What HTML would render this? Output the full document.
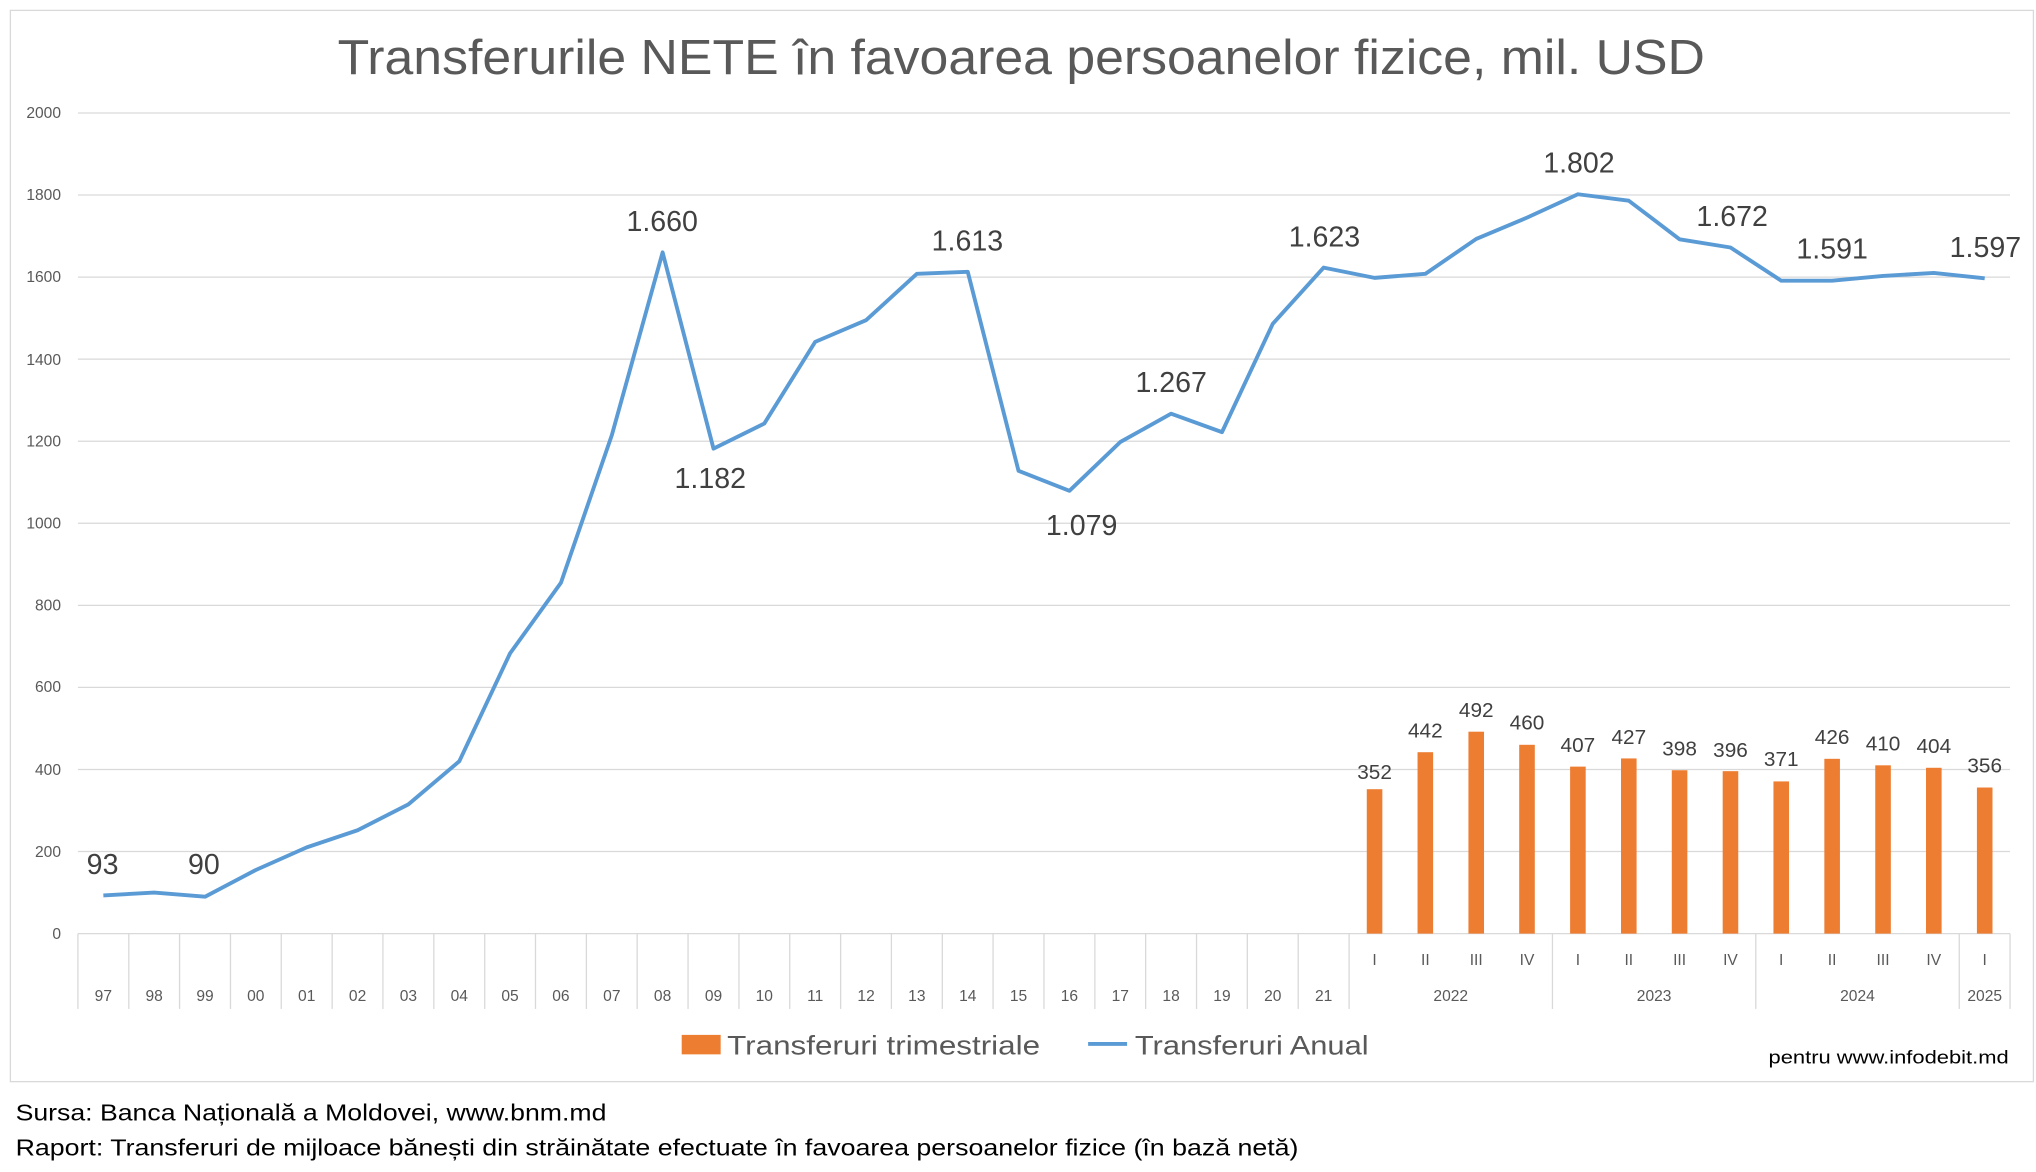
<!DOCTYPE html>
<html><head><meta charset="utf-8"><style>
html,body{margin:0;padding:0;background:#fff;}
svg{display:block;font-family:"Liberation Sans",sans-serif;}
</style></head><body>
<svg width="2036" height="1172" viewBox="0 0 1568 902.6" preserveAspectRatio="none">
<rect x="0" y="0" width="1568" height="902.6" fill="#fff"/>
<rect x="8" y="8" width="1558" height="825" fill="#fff" stroke="#d9d9d9" stroke-width="1"/>
<text x="260" y="57" font-size="38" fill="#595959" textLength="1053" lengthAdjust="spacingAndGlyphs">Transferurile NETE în favoarea persoanelor fizice, mil. USD</text>
<g stroke="#d9d9d9" stroke-width="1">
<line x1="60" x2="1548" y1="87" y2="87"/><line x1="60" x2="1548" y1="150.2" y2="150.2"/>
<line x1="60" x2="1548" y1="213.4" y2="213.4"/><line x1="60" x2="1548" y1="276.6" y2="276.6"/>
<line x1="60" x2="1548" y1="339.8" y2="339.8"/><line x1="60" x2="1548" y1="403" y2="403"/>
<line x1="60" x2="1548" y1="466.2" y2="466.2"/><line x1="60" x2="1548" y1="529.4" y2="529.4"/>
<line x1="60" x2="1548" y1="592.6" y2="592.6"/><line x1="60" x2="1548" y1="655.8" y2="655.8"/>
<line x1="60" x2="1548" y1="719" y2="719"/>
</g>
<g font-size="12" fill="#595959" text-anchor="end">
<text x="47" y="91">2000</text><text x="47" y="154">1800</text><text x="47" y="217">1600</text>
<text x="47" y="281">1400</text><text x="47" y="344">1200</text><text x="47" y="407">1000</text>
<text x="47" y="470">800</text><text x="47" y="533">600</text><text x="47" y="597">400</text>
<text x="47" y="660">200</text><text x="47" y="723">0</text>
</g>
<g stroke="#d9d9d9" stroke-width="1">
<line x1="60" x2="60" y1="719" y2="777"/><line x1="99.2" x2="99.2" y1="719" y2="777"/><line x1="138.3" x2="138.3" y1="719" y2="777"/>
<line x1="177.5" x2="177.5" y1="719" y2="777"/><line x1="216.6" x2="216.6" y1="719" y2="777"/><line x1="255.8" x2="255.8" y1="719" y2="777"/>
<line x1="294.9" x2="294.9" y1="719" y2="777"/><line x1="334.1" x2="334.1" y1="719" y2="777"/><line x1="373.3" x2="373.3" y1="719" y2="777"/>
<line x1="412.4" x2="412.4" y1="719" y2="777"/><line x1="451.6" x2="451.6" y1="719" y2="777"/><line x1="490.7" x2="490.7" y1="719" y2="777"/>
<line x1="529.9" x2="529.9" y1="719" y2="777"/><line x1="569.1" x2="569.1" y1="719" y2="777"/><line x1="608.2" x2="608.2" y1="719" y2="777"/>
<line x1="647.4" x2="647.4" y1="719" y2="777"/><line x1="686.5" x2="686.5" y1="719" y2="777"/><line x1="725.7" x2="725.7" y1="719" y2="777"/>
<line x1="764.8" x2="764.8" y1="719" y2="777"/><line x1="804" x2="804" y1="719" y2="777"/><line x1="843.2" x2="843.2" y1="719" y2="777"/>
<line x1="882.3" x2="882.3" y1="719" y2="777"/><line x1="921.5" x2="921.5" y1="719" y2="777"/><line x1="960.6" x2="960.6" y1="719" y2="777"/>
<line x1="999.8" x2="999.8" y1="719" y2="777"/><line x1="1039" x2="1039" y1="719" y2="777"/><line x1="1195.6" x2="1195.6" y1="719" y2="777"/>
<line x1="1352.2" x2="1352.2" y1="719" y2="777"/><line x1="1508.9" x2="1508.9" y1="719" y2="777"/><line x1="1548" x2="1548" y1="719" y2="777"/>
</g>
<g font-size="12" fill="#595959" text-anchor="middle">
<text x="79.6" y="771">97</text><text x="118.7" y="771">98</text><text x="157.9" y="771">99</text><text x="197" y="771">00</text>
<text x="236.2" y="771">01</text><text x="275.4" y="771">02</text><text x="314.5" y="771">03</text><text x="353.7" y="771">04</text>
<text x="392.8" y="771">05</text><text x="432" y="771">06</text><text x="471.2" y="771">07</text><text x="510.3" y="771">08</text>
<text x="549.5" y="771">09</text><text x="588.6" y="771">10</text><text x="627.8" y="771">11</text><text x="667" y="771">12</text>
<text x="706.1" y="771">13</text><text x="745.3" y="771">14</text><text x="784.4" y="771">15</text><text x="823.6" y="771">16</text>
<text x="862.8" y="771">17</text><text x="901.9" y="771">18</text><text x="941.1" y="771">19</text><text x="980.2" y="771">20</text>
<text x="1019.4" y="771">21</text>
<text x="1058.6" y="743">I</text><text x="1097.7" y="743">II</text><text x="1136.9" y="743">III</text><text x="1176" y="743">IV</text>
<text x="1215.2" y="743">I</text><text x="1254.4" y="743">II</text><text x="1293.5" y="743">III</text><text x="1332.7" y="743">IV</text>
<text x="1371.8" y="743">I</text><text x="1411" y="743">II</text><text x="1450.2" y="743">III</text><text x="1489.3" y="743">IV</text>
<text x="1528.5" y="743">I</text>
<text x="1117.3" y="771">2022</text><text x="1273.9" y="771">2023</text><text x="1430.5" y="771">2024</text><text x="1528.5" y="771">2025</text>
</g>
<g fill="#ED7D31">
<rect x="1052.6" y="607.8" width="12" height="111.2"/><rect x="1091.7" y="579.3" width="12" height="139.7"/>
<rect x="1130.9" y="563.5" width="12" height="155.5"/><rect x="1170" y="573.6" width="12" height="145.4"/>
<rect x="1209.2" y="590.4" width="12" height="128.6"/><rect x="1248.4" y="584.1" width="12" height="134.9"/>
<rect x="1287.5" y="593.2" width="12" height="125.8"/><rect x="1326.7" y="593.9" width="12" height="125.1"/>
<rect x="1365.8" y="601.8" width="12" height="117.2"/><rect x="1405" y="584.4" width="12" height="134.6"/>
<rect x="1444.2" y="589.4" width="12" height="129.6"/><rect x="1483.3" y="591.3" width="12" height="127.7"/>
<rect x="1522.5" y="606.5" width="12" height="112.5"/>
</g>
<g font-size="16" fill="#404040" text-anchor="middle">
<text x="1058.6" y="600">352</text><text x="1097.7" y="568">442</text><text x="1136.9" y="552">492</text><text x="1176" y="562">460</text>
<text x="1215.2" y="579">407</text><text x="1254.4" y="573">427</text><text x="1293.5" y="582">398</text><text x="1332.7" y="583">396</text>
<text x="1371.8" y="590">371</text><text x="1411" y="573">426</text><text x="1450.2" y="578">410</text><text x="1489.3" y="580">404</text>
<text x="1528.5" y="595">356</text>
</g>
<polyline fill="none" stroke="#5B9BD5" stroke-width="3" stroke-linejoin="round" points="79.6,689.6 118.7,687.4 157.9,690.6 197,670 236.2,652.6 275.4,639.4 314.5,619.5 353.7,586.3 392.8,503.2 432,448.8 471.2,335.1 510.3,194.4 549.5,345.5 588.6,326.2 627.8,263.3 667,246.6 706.1,210.9 745.3,209.3 784.4,362.6 823.6,378 862.8,340.4 901.9,318.6 941.1,332.8 980.2,249.4 1019.4,206.1 1058.6,214 1097.7,210.9 1136.9,184 1176,167.6 1215.2,149.6 1254.4,154.6 1293.5,184.3 1332.7,190.6 1371.8,216.2 1411,216.2 1450.2,212.5 1489.3,210.2 1528.5,214.3"/>
<g font-size="22" fill="#404040" text-anchor="middle">
<text x="79" y="673">93</text><text x="157" y="673">90</text><text x="510" y="178">1.660</text><text x="547" y="376">1.182</text>
<text x="745" y="193">1.613</text><text x="833" y="412">1.079</text><text x="902" y="302">1.267</text><text x="1020" y="190">1.623</text>
<text x="1216" y="133">1.802</text><text x="1334" y="174">1.672</text><text x="1411" y="199">1.591</text><text x="1529" y="198">1.597</text>
</g>
<rect x="525" y="797" width="30" height="15" fill="#ED7D31"/>
<text x="560" y="812" font-size="21" fill="#595959" textLength="241" lengthAdjust="spacingAndGlyphs">Transferuri trimestriale</text>
<line x1="838" x2="868" y1="804" y2="804" stroke="#5B9BD5" stroke-width="3"/>
<text x="874" y="812" font-size="21" fill="#595959" textLength="180" lengthAdjust="spacingAndGlyphs">Transferuri Anual</text>
<text x="1362" y="819" font-size="14" fill="#000" textLength="185" lengthAdjust="spacingAndGlyphs">pentru www.infodebit.md</text>
<text x="12" y="863" font-size="18" fill="#000" textLength="455" lengthAdjust="spacingAndGlyphs">Sursa: Banca Națională a Moldovei, www.bnm.md</text>
<text x="12" y="890" font-size="18" fill="#000" textLength="988" lengthAdjust="spacingAndGlyphs">Raport: Transferuri de mijloace bănești din străinătate efectuate în favoarea persoanelor fizice (în bază netă)</text>
</svg>
</body></html>
